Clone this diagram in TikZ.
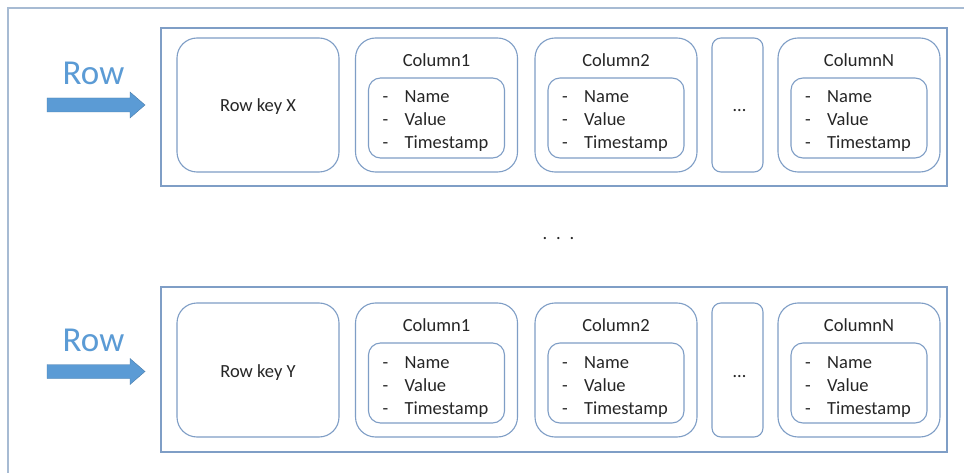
\documentclass[tikz,border=0pt]{standalone}
\usepackage{fontspec}
\setmainfont{Carlito}
\definecolor{boxline}{HTML}{7F9EC6}
\definecolor{frameline}{HTML}{A7BBD3}
\definecolor{rowblue}{HTML}{5B9BD5}
\definecolor{txt}{HTML}{262626}
\newcommand{\txtsize}{\fontsize{18.5}{22}\selectfont}
% #1 prefix, #2 y offset, #3 title, #4 centre x
\newcommand{\colblock}[4]{%
  \node[bigbox] (#1) at (#4,#2+105) {};
  \node[innerbox] (#1in) at (#4,#2+118) {};
  \node[label] (#1t) at (#4,#2+66.7) {#3};
  \node[item] (#1d1) at (#4-54,#2+103) {-};
  \node[item] (#1d2) at (#4-54,#2+126) {-};
  \node[item] (#1d3) at (#4-54,#2+149) {-};
  \node[item] (#1n) at (#4-32,#2+103) {Name};
  \node[item] (#1v) at (#4-32,#2+126) {Value};
  \node[item] (#1s) at (#4-32,#2+149) {Timestamp};
}
% #1 prefix, #2 y offset, #3 key label, #4 frame centre y, #5 frame height, #6 arrow offset
\newcommand{\datarow}[6]{%
  \node[rowframe, minimum height=#5] (#1frame) at (554,#4) {};
  \node[bigbox] (#1key) at (258,#2+105) {};
  \node[label] (#1keyt) at (258,#2+112) {#3};
  \colblock{#1ca}{#2}{Column1}{436.5}
  \colblock{#1cb}{#2}{Column2}{616}
  \node[dotbox] (#1dots) at (737.5,#2+105) {};
  \node[label] (#1dotst) at (739.5,#2+112) {…};
  \colblock{#1cn}{#2}{ColumnN}{859}
  \node[rowlabel] (#1row) at (93.5,#6+85) {Row};
  \fill[rowblue, draw=rowblue!80!black, line width=0.4pt]
    (47,#6+98) -- (130,#6+98) -- (130,#6+92) -- (145,#6+105)
    -- (130,#6+118) -- (130,#6+112) -- (47,#6+112) -- cycle;
}
\begin{document}
\begin{tikzpicture}[x=1pt,y=-1pt,
  bigbox/.style={draw=boxline, line width=1.1pt, rounded corners=20pt,
    minimum width=162pt, minimum height=134pt, inner sep=0pt},
  innerbox/.style={draw=boxline, line width=1.1pt, rounded corners=12pt,
    minimum width=136pt, minimum height=80pt, inner sep=0pt},
  dotbox/.style={draw=boxline, line width=1.1pt, rounded corners=9pt,
    minimum width=51pt, minimum height=134pt, inner sep=0pt},
  rowframe/.style={draw=boxline, line width=1.1pt, minimum width=786pt, inner sep=0pt},
  label/.style={anchor=base, inner sep=0pt, text=txt, font=\txtsize},
  item/.style={anchor=base west, inner sep=0pt, text=txt, font=\txtsize},
  rowlabel/.style={anchor=base, inner sep=0pt, text=rowblue, font=\fontsize{35}{40}\selectfont}]
\useasboundingbox (0,0) rectangle (964,473);
\fill[white] (0,0) rectangle (964,473);
\draw[frameline, line width=1.3pt] (8,473) -- (8,8) -- (964,8);
\datarow{a}{0}{Row key X}{107}{158pt}{0}
\datarow{b}{265}{Row key Y}{369.5}{165pt}{266.5}
\node[label] (middots) at (558.5,240) {.\hspace{8.8pt}.\hspace{8.8pt}.};
\end{tikzpicture}
\end{document}
